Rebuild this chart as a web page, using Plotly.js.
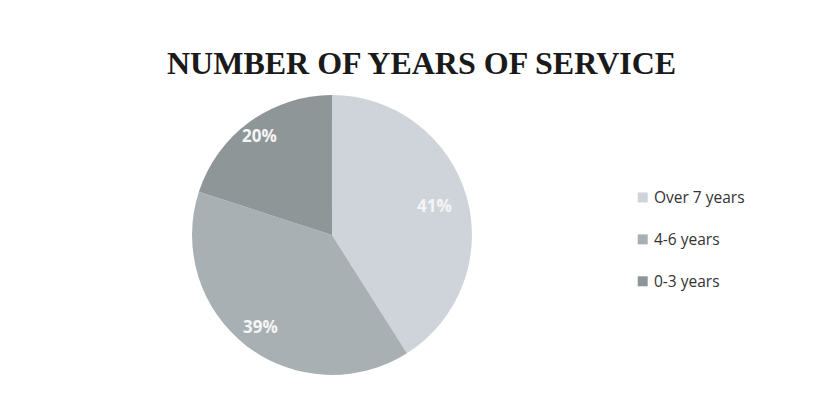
<!DOCTYPE html>
<html>
<head>
<meta charset="utf-8">
<script src="https://cdn.plot.ly/plotly-3.0.1.min.js"></script>
<style>html,body{margin:0;padding:0;background:#fff;}#chart{width:825px;height:403px;}</style>
</head>
<body>
<div id="chart"></div>
<script>
const categories = ["Over 7 years", "4-6 years", "0-3 years"];
const shares = [41, 39, 20];
const sliceColors = ["#cfd4da", "#a9b0b4", "#8f9698"];

const W = 825, H = 403;
const pieDomain = {x: [0.2327, 0.5721], y: [0.0695, 0.764]};
const cx = (pieDomain.x[0] + pieDomain.x[1]) / 2 * W;
const cy = (pieDomain.y[0] + pieDomain.y[1]) / 2 * H;
const R = Math.min((pieDomain.x[1] - pieDomain.x[0]) * W, (pieDomain.y[1] - pieDomain.y[0]) * H) / 2;
const labelRadiusFactor = [0.76, 0.83, 0.88];

const shapes = [], annotations = [];
// data labels placed near the outer part of each slice (like the original)
const total = shares.reduce((a, b) => a + b, 0);
let cum = 0;
shares.forEach((v, i) => {
  const mid = (cum + v / 2) / total * 2 * Math.PI;
  cum += v;
  const f = labelRadiusFactor[i];
  annotations.push({xref: "paper", yref: "paper",
    x: (cx + f * R * Math.sin(mid)) / W, y: (cy + f * R * Math.cos(mid)) / H,
    xanchor: "center", yanchor: "middle", showarrow: false, text: v + "%",
    font: {family: "Open Sans, sans-serif", size: 17, color: "#f4f5f6", weight: "bold"}});
});

const legendX = 0.773, legendY0 = 0.51, legendStep = 0.104;
categories.forEach((c, i) => {
  const yc = legendY0 - i * legendStep;
  shapes.push({type: "rect", xref: "paper", yref: "paper",
    x0: legendX, x1: legendX + 0.0121, y0: yc - 0.0124, y1: yc + 0.0124,
    fillcolor: sliceColors[i], line: {width: 0}});
  annotations.push({xref: "paper", yref: "paper", x: legendX + 0.017, y: yc,
    xanchor: "left", yanchor: "middle", showarrow: false, text: c,
    font: {family: "Open Sans, sans-serif", size: 15.5, color: "#333"}});
});

const data = [{
  type: "pie",
  labels: categories,
  values: shares,
  sort: false,
  direction: "clockwise",
  rotation: 0,
  marker: {colors: sliceColors, line: {color: "#ffffff", width: 0}},
  textinfo: "none",
  hoverinfo: "label+percent",
  domain: pieDomain,
  showlegend: false
}];

const layout = {
  width: W, height: H,
  margin: {l: 0, r: 0, t: 0, b: 0},
  paper_bgcolor: "#ffffff",
  title: {text: "<b>NUMBER OF YEARS OF SERVICE</b>", x: 0.511, xanchor: "center",
    y: 0.845, yanchor: "middle", yref: "paper",
    font: {family: "Liberation Serif, Times New Roman, serif", size: 32, color: "#1a1a1a"}},
  shapes: shapes,
  annotations: annotations,
  showlegend: false
};
Plotly.newPlot("chart", data, layout, {displayModeBar: false, staticPlot: true});
</script>
</body>
</html>
